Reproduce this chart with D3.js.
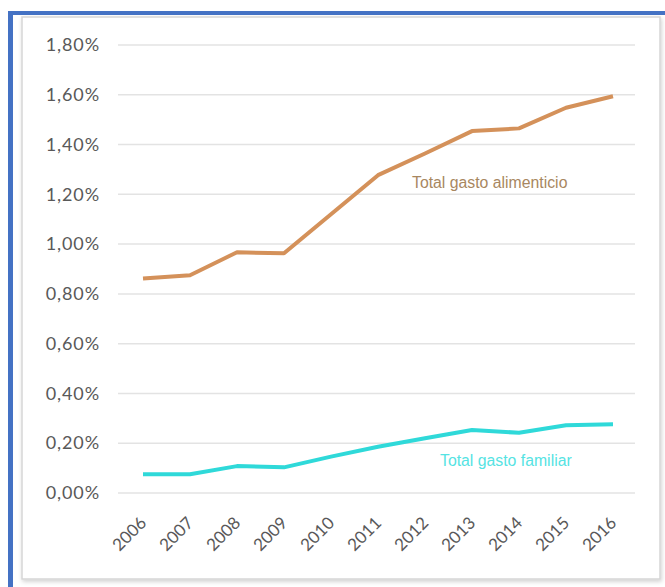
<!DOCTYPE html>
<html>
<head>
<meta charset="utf-8">
<script src="https://cdn.jsdelivr.net/npm/d3@7"></script>
<style>
  body { margin: 0; background: #fff; }
  svg { display: block; }
</style>
</head>
<body>
<div id="chart"></div>
<script>
// gasto chart

var years = ['2006', '2007', '2008', '2009', '2010', '2011', '2012', '2013', '2014', '2015', '2016'];
var alimenticio = [0.862, 0.875, 0.967, 0.963, 1.12, 1.277, 1.364, 1.454, 1.465, 1.548, 1.594];
var familiar = [0.075, 0.075, 0.108, 0.103, 0.146, 0.186, 0.22, 0.253, 0.242, 0.272, 0.276];
var yTicks = [0, 0.2, 0.4, 0.6, 0.8, 1.0, 1.2, 1.4, 1.6, 1.8];

var svgWidth = 665;
var svgHeight = 587;

var svg = d3.select('#chart').append('svg')
    .attr('width', svgWidth)
    .attr('height', svgHeight);

// frame: panel with shadow, blue border top + left
var defs = svg.append('defs');
var f = defs.append('filter').attr('id', 'shadow')
    .attr('x', -0.05).attr('y', -0.05).attr('width', 1.1).attr('height', 1.1);
f.append('feDropShadow').attr('dx', 1).attr('dy', 2).attr('stdDeviation', 2)
    .attr('flood-color', '#000').attr('flood-opacity', 0.18);

svg.append('rect')
    .attr('x', 22).attr('y', 17)
    .attr('width', 638).attr('height', 562)
    .attr('fill', '#fff')
    .attr('stroke', '#d6d6d6')
    .attr('stroke-width', 1.5)
    .attr('filter', 'url(#shadow)');

svg.append('rect').attr('x', 8).attr('y', 11).attr('width', 660).attr('height', 4).attr('fill', '#4472c4');
svg.append('rect').attr('x', 8).attr('y', 11).attr('width', 5).attr('height', 580).attr('fill', '#4472c4');

var xScale = d3.scalePoint()
    .domain(years)
    .range([143, 613]);

var yScale = d3.scaleLinear()
    .domain([0, 1.8])
    .range([493, 45]);

// gridlines
svg.append('g').selectAll('line')
    .data(yTicks)
    .enter().append('line')
    .attr('x1', 118).attr('x2', 635)
    .attr('y1', function(d){ return yScale(d); })
    .attr('y2', function(d){ return yScale(d); })
    .attr('stroke', '#e3e3e3')
    .attr('stroke-width', 1.5);

// y labels
var yAxis = d3.axisLeft(yScale)
    .tickValues(yTicks)
    .tickSize(0)
    .tickPadding(0)
    .tickFormat(function(d){ return d.toFixed(2).replace('.', ',') + '%'; });

var gy = svg.append('g').attr('transform', 'translate(100,0)').call(yAxis);
gy.select('.domain').remove();
gy.selectAll('text')
    .attr('fill', '#595959')
    .style('font-family', 'Lato, "Open Sans", sans-serif')
    .style('font-size', '18px')
    .style('letter-spacing', '0.9px');

// x labels
var xAxis = d3.axisBottom(xScale).tickSize(0).tickPadding(0);
var gx = svg.append('g').attr('transform', 'translate(0,524)').call(xAxis);
gx.select('.domain').remove();
gx.selectAll('text')
    .attr('fill', '#595959')
    .attr('dy', 0)
    .attr('y', 0)
    .attr('x', 0)
    .attr('text-anchor', 'end')
    .attr('transform', 'translate(4,0) rotate(-45)')
    .style('font-family', 'Lato, "Open Sans", sans-serif')
    .style('font-size', '17px');

var line = function(values){
    return d3.line()
        .x(function(d, i){ return xScale(years[i]); })
        .y(function(d){ return yScale(d); })(values);
};

svg.append('path')
    .attr('d', line(alimenticio))
    .attr('fill', 'none')
    .attr('stroke', '#d4915a')
    .attr('stroke-width', 4)
    .attr('stroke-linejoin', 'round');

svg.append('path')
    .attr('d', line(familiar))
    .attr('fill', 'none')
    .attr('stroke', '#2fd9d9')
    .attr('stroke-width', 4)
    .attr('stroke-linejoin', 'round');

// series labels
svg.append('text')
    .attr('x', 412).attr('y', 188)
    .attr('fill', '#a8875f')
    .style('font-family', '"Liberation Sans", Arial, sans-serif')
    .style('font-size', '15.8px')
    .text('Total gasto alimenticio');

svg.append('text')
    .attr('x', 440).attr('y', 466)
    .attr('fill', '#55e3e3')
    .style('font-family', '"Liberation Sans", Arial, sans-serif')
    .style('font-size', '15.8px')
    .text('Total gasto familiar');
</script>
</body>
</html>
